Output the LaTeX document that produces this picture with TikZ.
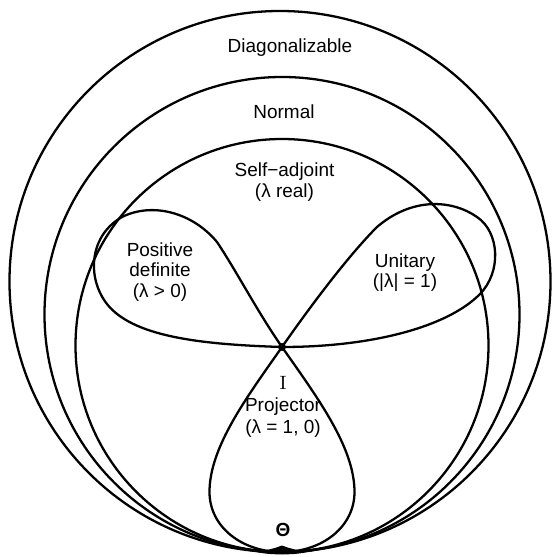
\documentclass[tikz,border=0pt]{standalone}
\usepackage[no-math]{fontspec}
\setmainfont{Liberation Sans}
\begin{document}
\begin{tikzpicture}[
    lijn/.style={line width=1.3pt},
    tekst/.style={font=\fontsize{10.8}{11.6}\selectfont, align=center}]
    \useasboundingbox (-5.64,-4.2) rectangle (5.38,6.94);

    % Punten
    \coordinate (I) at (0,0);
    \coordinate (B) at (0,-4.1);

    % Cirkels
    \draw[lijn] (-0.04,1.31) circle (5.41);
    \draw[lijn] (0,0.65) circle (4.75);
    \draw[lijn] (0,0.03) circle (4.13);

    % Positief definiet
    \draw[lijn] (I) .. controls (-1.6,0.05) and (-2.9,0.2) .. (-3.45,0.8)
        .. controls (-3.9,1.3) and (-3.9,2.2) .. (-3.2,2.6)
        .. controls (-2.6,2.9) and (-1.8,2.7) .. (-1.3,2.1)
        .. controls (-0.9,1.5) and (-0.5,0.72) .. (I);

    % Unitair
    \draw[lijn] (I) .. controls (1.8,0) and (3.3,0.4) .. (3.95,1.05)
        .. controls (4.4,1.5) and (4.35,2.3) .. (3.9,2.6)
        .. controls (3.4,2.95) and (2.6,3.0) .. (1.9,2.4)
        .. controls (1.3,1.8) and (0.5,0.72) .. (I);

    % Projector
    \draw[lijn] (I) .. controls (-0.7,-1.0) and (-1.45,-2.0) .. (-1.45,-2.9)
        .. controls (-1.45,-3.6) and (-0.8,-4.1) .. (B)
        .. controls (0.8,-4.1) and (1.45,-3.6) .. (1.45,-2.9)
        .. controls (1.45,-2.0) and (0.7,-1.0) .. (I);

    % Punt I en onderkant
    \fill (I) circle (0.08);
    \fill (-0.65,-4.08) .. controls (-0.25,-4.06) .. (0,-3.97)
        .. controls (0.25,-4.06) .. (0.65,-4.08)
        .. controls (0.3,-4.14) .. (0,-4.15)
        .. controls (-0.3,-4.14) .. (-0.65,-4.08) -- cycle;

    % Labels
    \node[tekst] (diag) at (0.16,5.98) {Diagonalizable};
    \node[tekst] (normaal) at (0.04,4.7) {Normal};
    \node[tekst] (zelfadj) at (0.05,3.3) {Self−adjoint\\(λ real)};
    \node[tekst] (posdef) at (-2.44,1.5) {Positive\\definite\\(λ > 0)};
    \node[tekst] (unitair) at (2.46,1.49) {Unitary\\(|λ| = 1)};
    \node[tekst] (proj) at (0.02,-1.2) {$\mathrm{I}$\\[1pt]Projector\\[1pt](λ = 1, 0)};
    \node[tekst, font=\fontsize{10.8}{11.6}\selectfont\bfseries] (theta) at (0.02,-3.66) {Θ};
\end{tikzpicture}
\end{document}
